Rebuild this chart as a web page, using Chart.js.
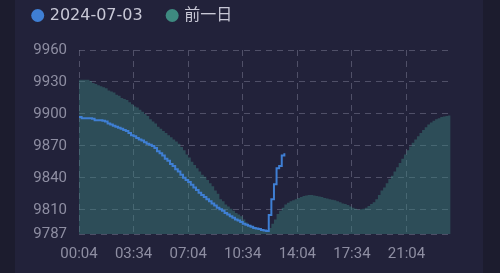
<!DOCTYPE html>
<html><head><meta charset="utf-8">
<script src="https://cdn.jsdelivr.net/npm/chart.js@4"></script>
<style>
html,body{margin:0;padding:0;background:#1c1c2e;}
#wrap{position:relative;width:500px;height:273px;overflow:hidden;}
#card{position:absolute;left:15px;top:0;width:468px;height:273px;background:#22223a;}
canvas{position:absolute;left:0;top:0;}
</style></head><body>
<div id="wrap"><div id="card"></div><canvas id="c" width="500" height="273"></canvas></div>
<script>
const seriesNames = ['2024-07-03', '前一日'];
const legendColors = ['#3f7fd4', '#3e8a80'];
const startMinute = 4, stepMinutes = 10, pointCount = 144;
const times = [];
for (let i = 0; i < pointCount; i++) {
  const m = startMinute + i * stepMinutes;
  times.push(String(Math.floor(m / 60)).padStart(2, '0') + ':' + String(m % 60).padStart(2, '0'));
}
const tickLabels = ['00:04', '03:34', '07:04', '10:34', '14:04', '17:34', '21:04'];
const yTicks = [9787, 9810, 9840, 9870, 9900, 9930, 9960];

const today = [
  9897, 9896, 9896, 9896, 9896, 9895.5, 9894, 9894, 9894, 9893.5,
  9893, 9891, 9890, 9889, 9888, 9887, 9886, 9885, 9884, 9882,
  9880, 9879, 9877.5, 9876, 9875, 9873.5, 9872, 9871, 9870, 9868,
  9865, 9863, 9861, 9858, 9856, 9853, 9851, 9848, 9846, 9843,
  9840, 9838, 9836, 9833.5, 9831, 9828.5, 9826, 9824, 9822, 9820,
  9818, 9816, 9814, 9812, 9810.5, 9809, 9807, 9805.5, 9804, 9802.5,
  9801, 9800, 9798.5, 9797, 9796, 9795, 9794, 9793, 9792.5, 9792,
  9791, 9790.5, 9790, 9805, 9820, 9834, 9849, 9851, 9861, 9863
];
const prevDay = [
  9932, 9932, 9932, 9932, 9931, 9929, 9928, 9927, 9926, 9925,
  9924, 9922, 9921, 9920, 9918, 9917, 9915, 9914, 9913, 9911,
  9909, 9907, 9906, 9904, 9902, 9900, 9898, 9895, 9893, 9891,
  9888, 9886, 9884, 9882, 9880, 9878, 9876, 9874, 9872, 9869,
  9866, 9862, 9859, 9855, 9852, 9849, 9846, 9843, 9841, 9838,
  9835, 9832, 9828, 9825, 9820, 9818, 9815, 9813, 9811, 9809,
  9807, 9805.5, 9804, 9801, 9798, 9796, 9795, 9794, 9793, 9792,
  9791, 9790.5, 9790, 9793, 9797, 9801, 9806, 9809, 9812, 9815,
  9816.5, 9818, 9819, 9820, 9821, 9822, 9823, 9823.5, 9824, 9824,
  9823.5, 9823, 9822.5, 9822, 9821, 9820.5, 9820, 9819.5, 9819, 9818,
  9817, 9816, 9815.5, 9814.5, 9813, 9812, 9811, 9810, 9810.5, 9811,
  9812, 9813.5, 9815.5, 9817, 9820, 9824, 9828, 9831, 9835, 9839,
  9842, 9846, 9850, 9854, 9858, 9862, 9866, 9869.5, 9873, 9876,
  9879, 9882, 9885, 9887.5, 9890, 9892, 9893.5, 9895, 9896, 9897,
  9897.5, 9898, 9898.5, 9899
];

const gridColor = 'rgba(125,125,150,0.5)';
const tickFont = { family: "Roboto, 'Liberation Sans', sans-serif", size: 15 };
const legendPad = 25.5;

const legendPlace = {
  id: 'legendPlace',
  afterLayout(chart) {
    const lg = chart.legend;
    if (lg) { lg.left = 33.7 - legendPad; lg.top = 7.5 - legendPad; }
  }
};

new Chart(document.getElementById('c'), {
  type: 'line',
  data: {
    labels: times,
    datasets: [
      {
        label: seriesNames[0],
        data: today,
        borderColor: '#3f7fd4',
        backgroundColor: '#3f7fd4',
        borderWidth: 2,
        pointRadius: 0,
        stepped: true,
        fill: false
      },
      {
        label: seriesNames[1],
        data: prevDay,
        borderColor: 'rgba(0,0,0,0)',
        backgroundColor: 'rgba(62,138,130,0.42)',
        borderWidth: 0,
        pointRadius: 0,
        stepped: true,
        fill: 'start'
      }
    ]
  },
  options: {
    responsive: false,
    animation: false,
    events: [],
    layout: { padding: { top: 50 - (16 + legendPad + 10), left: 21.3, right: 49.3, bottom: -1.3 } },
    plugins: {
      tooltip: { enabled: false },
      legend: {
        position: 'top',
        align: 'start',
        labels: {
          usePointStyle: true,
          pointStyle: 'circle',
          boxWidth: 8,
          boxHeight: 9.2,
          padding: legendPad,
          color: '#c8c8d6',
          font: { family: "'DejaVu Sans', 'Noto Sans CJK SC', sans-serif", size: 16 },
          generateLabels(chart) {
            const items = Chart.defaults.plugins.legend.labels.generateLabels(chart);
            items.forEach((it, i) => {
              it.fillStyle = legendColors[i];
              it.strokeStyle = legendColors[i];
              it.lineWidth = 0;
              it.pointStyle = 'circle';
            });
            return items;
          }
        }
      }
    },
    scales: {
      x: {
        type: 'category',
        offset: false,
        afterBuildTicks(scale) {
          scale.ticks = scale.ticks.filter(t => tickLabels.includes(times[t.value]));
        },
        grid: { color: gridColor, drawTicks: false, lineWidth: 1 },
        border: { display: false, dash: [6, 5] },
        ticks: { autoSkip: false, maxRotation: 0, padding: 11, color: '#8e8ea2', font: tickFont }
      },
      y: {
        min: 9787,
        max: 9960,
        afterBuildTicks(scale) {
          scale.ticks = yTicks.map(v => ({ value: v }));
        },
        grid: { color: gridColor, drawTicks: false, lineWidth: 1 },
        border: { display: false, dash: [6, 5] },
        ticks: { padding: 12, color: '#8e8ea2', font: tickFont, callback: v => String(v) }
      }
    }
  },
  plugins: [legendPlace]
});
</script>
</body></html>
